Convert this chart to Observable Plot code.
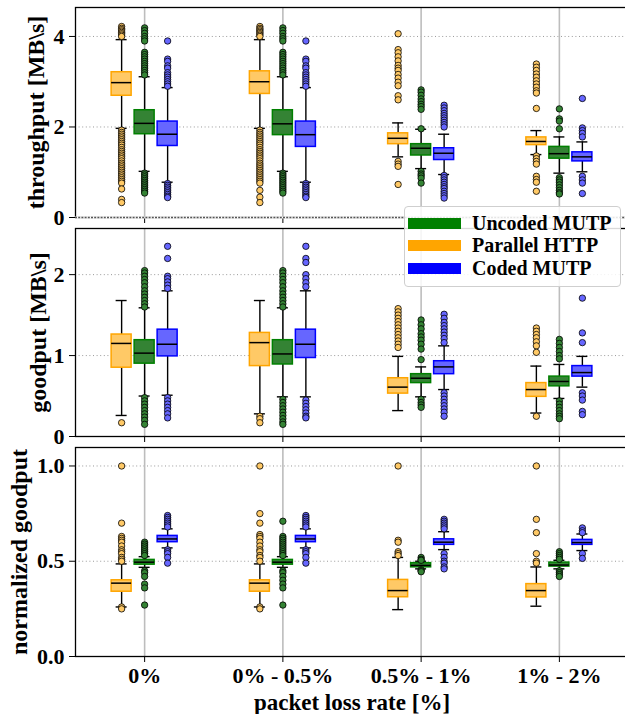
<!DOCTYPE html>
<html>
<head>
<meta charset="utf-8">
<script src="https://cdn.jsdelivr.net/npm/d3@7"></script>
<script src="https://cdn.jsdelivr.net/npm/@observablehq/plot@0.6"></script>
<style>
  html, body { margin: 0; padding: 0; background: #fff; }
  #wrap { position: relative; width: 625px; height: 714px; overflow: hidden; background: #fff; }
  .panel { position: absolute; left: 0; }
  #legend { position: absolute; left: 404px; top: 206px; width: 215px; height: 79px;
    border: 1px solid #cfcfcf; border-radius: 4px; background: rgba(255,255,255,0.85);
    font-family: "Liberation Serif", "Times New Roman", serif; font-weight: bold; font-size: 20px; }
  .lrow { position: absolute; left: 3px; height: 22px; display: flex; align-items: center; }
  .sw { width: 53px; height: 11px; margin-right: 11px; }
</style>
</head>
<body>
<div id="wrap">
  <div id="p1" class="panel" style="top:0px"></div>
  <div id="p2" class="panel" style="top:222px"></div>
  <div id="p3" class="panel" style="top:441px"></div>
  <div id="legend"></div>
</div>
<script>
// ---------------- data ----------------
const categories = ["0%", "0% - 0.5%", "0.5% - 1%", "1% - 2%"];
const seriesNames = ["Parallel HTTP", "Uncoded MUTP", "Coded MUTP"];
const legendOrder = ["Uncoded MUTP", "Parallel HTTP", "Coded MUTP"];
const xTitle = "packet loss rate [%]";
const yTitles = ["throughput [MB\\s]", "goodput [MB\\s]", "normalized goodput"];
const yTicks1 = [0, 2, 4];
const yTicks2 = [0, 1, 2];
const yTicks3 = [0, 0.5, 1.0];

// box stats per category: [whisker low, q1, median, q3, whisker high]
const thrHttpBox = [[1.97, 2.69, 2.98, 3.21, 3.93], [1.97, 2.73, 3.00, 3.23, 3.93], [1.34, 1.62, 1.75, 1.86, 2.09], [1.39, 1.60, 1.68, 1.77, 1.92]];
const thrUncBox  = [[1.02, 1.84, 2.08, 2.37, 3.11], [1.02, 1.82, 2.07, 2.37, 3.11], [1.08, 1.37, 1.53, 1.62, 1.95], [0.98, 1.30, 1.41, 1.56, 1.78]];
const thrCodBox  = [[0.78, 1.58, 1.84, 2.12, 2.87], [0.78, 1.56, 1.83, 2.12, 2.87], [0.95, 1.27, 1.42, 1.53, 1.84], [1.01, 1.24, 1.34, 1.44, 1.67]];

const gpHttpBox = [[0.26, 0.85, 1.15, 1.26, 1.68], [0.28, 0.87, 1.16, 1.28, 1.68], [0.32, 0.53, 0.61, 0.72, 0.99], [0.29, 0.49, 0.58, 0.66, 0.87]];
const gpUncBox  = [[0.50, 0.90, 1.03, 1.19, 1.59], [0.49, 0.89, 1.02, 1.19, 1.59], [0.49, 0.66, 0.72, 0.77, 0.86], [0.47, 0.62, 0.68, 0.74, 0.89]];
const gpCodBox  = [[0.51, 0.99, 1.14, 1.32, 1.80], [0.49, 0.97, 1.14, 1.32, 1.80], [0.58, 0.77, 0.86, 0.93, 1.12], [0.61, 0.74, 0.79, 0.87, 0.99]];

const ngHttpBox = [[0.26, 0.34, 0.385, 0.40, 0.486], [0.26, 0.34, 0.385, 0.40, 0.486], [0.246, 0.311, 0.346, 0.402, 0.52], [0.264, 0.31, 0.346, 0.38, 0.47]];
const ngUncBox  = [[0.468, 0.482, 0.495, 0.507, 0.524], [0.468, 0.482, 0.495, 0.507, 0.524], [0.46, 0.468, 0.478, 0.49, 0.50], [0.46, 0.472, 0.48, 0.493, 0.505]];
const ngCodBox  = [[0.57, 0.60, 0.617, 0.633, 0.67], [0.57, 0.60, 0.617, 0.633, 0.67], [0.561, 0.586, 0.60, 0.615, 0.655], [0.556, 0.586, 0.598, 0.612, 0.643]];

// outliers per category
const thrHttpOut = [
  [4.22, 4.18, 4.15, 4.12, 4.09, 4.06, 4.03, 4.00, 1.93, 1.88, 1.84, 1.80, 1.76, 1.72, 1.68, 1.64, 1.60, 1.55, 1.50, 1.46, 1.42, 1.38, 1.34, 1.30, 1.25, 1.20, 1.16, 1.12, 1.08, 1.04, 1.00, 0.96, 0.92, 0.88, 0.84, 0.80, 0.76, 0.63, 0.40, 0.33],
  [4.22, 4.18, 4.15, 4.12, 4.09, 4.06, 4.03, 4.00, 1.93, 1.88, 1.84, 1.80, 1.76, 1.72, 1.68, 1.64, 1.60, 1.55, 1.50, 1.46, 1.42, 1.38, 1.34, 1.30, 1.25, 1.20, 1.16, 1.12, 1.08, 1.04, 1.00, 0.96, 0.92, 0.88, 0.84, 0.80, 0.76, 0.60, 0.45, 0.33],
  [4.06, 3.71, 3.64, 3.55, 3.46, 3.36, 3.30, 3.25, 3.16, 3.08, 2.99, 2.91, 2.69, 2.60, 1.24, 1.18, 1.13, 0.73],
  [3.39, 3.32, 3.25, 3.17, 3.10, 3.02, 2.95, 2.88, 2.80, 2.75, 2.41, 1.36, 1.30, 1.24, 1.18, 0.91, 0.84, 0.78, 0.58]
];
const thrUncOut = [
  [4.19, 4.13, 4.07, 4.00, 3.95, 3.90, 3.65, 3.60, 3.55, 3.50, 3.45, 3.40, 3.35, 3.30, 3.25, 3.20, 3.15, 0.98, 0.94, 0.90, 0.86, 0.82, 0.78, 0.74, 0.70, 0.66, 0.62, 0.58, 0.54],
  [4.19, 4.13, 4.07, 4.00, 3.95, 3.90, 3.65, 3.60, 3.55, 3.50, 3.45, 3.40, 3.35, 3.30, 3.25, 3.20, 3.15, 0.98, 0.94, 0.90, 0.86, 0.82, 0.78, 0.74, 0.70, 0.66, 0.62, 0.58, 0.54],
  [2.82, 2.77, 2.70, 2.62, 2.56, 2.50, 2.45, 2.39, 1.96, 1.02, 0.96, 0.92, 0.87, 0.76],
  [2.40, 2.18, 2.13, 1.96, 0.88, 0.83, 0.78, 0.72, 0.66, 0.60, 0.55, 0.52]
];
const thrCodOut = [
  [3.90, 3.50, 3.45, 3.35, 3.30, 3.20, 3.15, 3.10, 3.05, 3.00, 2.95, 2.90, 0.75, 0.71, 0.67, 0.63, 0.59, 0.55, 0.51, 0.47, 0.44],
  [3.90, 3.50, 3.45, 3.35, 3.30, 3.20, 3.15, 3.10, 3.05, 3.00, 2.95, 2.90, 0.75, 0.71, 0.67, 0.63, 0.59, 0.55, 0.51, 0.47, 0.44],
  [2.48, 2.42, 2.36, 2.30, 2.25, 2.20, 2.15, 2.10, 2.05, 2.00, 0.93, 0.88, 0.83, 0.78, 0.73, 0.68, 0.64, 0.58, 0.53, 0.48, 0.43],
  [2.63, 1.98, 1.92, 1.86, 1.78, 0.91, 0.83, 0.76, 0.53]
];

const gpHttpOut = [
  [0.17],
  [0.25, 0.22, 0.17],
  [1.58, 1.54, 1.50, 1.46, 1.42, 1.38, 1.34, 1.30, 1.26, 1.22, 1.18, 1.14, 1.10],
  [1.34, 1.30, 1.26, 1.22, 1.17, 1.12, 1.04, 0.25]
];
const gpUncOut = [
  [2.05, 2.02, 1.98, 1.94, 1.90, 1.85, 1.80, 1.76, 1.72, 1.68, 1.64, 1.60, 0.48, 0.44, 0.40, 0.36, 0.32, 0.28, 0.24, 0.20, 0.15],
  [2.05, 2.02, 1.98, 1.94, 1.90, 1.85, 1.80, 1.76, 1.72, 1.68, 1.64, 1.60, 0.46, 0.42, 0.38, 0.34, 0.30, 0.26, 0.22, 0.18, 0.15],
  [1.44, 1.38, 1.33, 1.27, 1.23, 1.19, 1.14, 1.08, 0.95, 0.46, 0.42, 0.39, 0.36],
  [1.20, 1.15, 1.10, 1.05, 1.00, 0.96, 0.44, 0.40, 0.36, 0.32, 0.28, 0.25, 0.22]
];
const gpCodOut = [
  [2.35, 2.20, 1.98, 1.95, 1.91, 1.87, 1.83, 0.48, 0.44, 0.40, 0.36, 0.32, 0.28, 0.23],
  [2.35, 2.20, 2.15, 2.00, 1.95, 1.90, 1.85, 0.45, 0.41, 0.37, 0.33, 0.29, 0.25, 0.23],
  [1.51, 1.46, 1.41, 1.37, 1.33, 1.29, 1.25, 1.21, 1.16, 0.54, 0.50, 0.46, 0.42, 0.38, 0.34, 0.30, 0.25],
  [1.71, 1.28, 1.16, 0.54, 0.50, 0.45, 0.31, 0.27]
];

const ngHttpOut = [
  [1.00, 0.70, 0.63, 0.62, 0.61, 0.60, 0.58, 0.56, 0.55, 0.54, 0.52, 0.51, 0.50, 0.26, 0.25],
  [1.00, 0.75, 0.70, 0.64, 0.63, 0.62, 0.60, 0.58, 0.56, 0.55, 0.53, 0.52, 0.50, 0.26, 0.25],
  [1.00, 0.61, 0.60, 0.55, 0.54, 0.53],
  [1.00, 0.72, 0.65, 0.54, 0.50, 0.49]
];
const ngUncOut = [
  [0.60, 0.59, 0.58, 0.57, 0.56, 0.55, 0.54, 0.53, 0.45, 0.44, 0.42, 0.38, 0.36, 0.27],
  [0.71, 0.63, 0.62, 0.61, 0.60, 0.59, 0.58, 0.57, 0.56, 0.55, 0.54, 0.53, 0.45, 0.44, 0.42, 0.40, 0.38, 0.36, 0.27],
  [0.52, 0.51, 0.505, 0.455, 0.45, 0.445],
  [0.55, 0.54, 0.53, 0.52, 0.51, 0.45, 0.44, 0.43, 0.42]
];
const ngCodOut = [
  [0.74, 0.73, 0.72, 0.71, 0.70, 0.69, 0.68, 0.56, 0.55, 0.54, 0.52, 0.49],
  [0.74, 0.73, 0.72, 0.71, 0.70, 0.69, 0.68, 0.56, 0.55, 0.54, 0.52, 0.49],
  [0.72, 0.71, 0.70, 0.69, 0.68, 0.67, 0.54, 0.52, 0.50, 0.49, 0.47, 0.46],
  [0.675, 0.66, 0.65, 0.54, 0.515]
];

// ---------------- styling ----------------
const faces = {"Parallel HTTP": "#ffc966", "Uncoded MUTP": "#348334", "Coded MUTP": "#6666ff"};
const edges = {"Parallel HTTP": "#ffa500", "Uncoded MUTP": "#008000", "Coded MUTP": "#0000ff"};
const legendColors = {"Parallel HTTP": "#ffa500", "Uncoded MUTP": "#008000", "Coded MUTP": "#0000ff"};
const offsets = {"Parallel HTTP": -23, "Uncoded MUTP": 0, "Coded MUTP": 23};
const FONT = "'Liberation Serif', 'Times New Roman', serif";

const W = 625, ML = 75, MR = -3;
const bandW = (W - ML - MR) / categories.length;
const boxInset = (bandW - 20) / 2;
const capInset = (bandW - 11) / 2;

function boxRows(box) {
  return box.map((b, i) => ({cat: categories[i], lo: b[0], q1: b[1], med: b[2], q3: b[3], hi: b[4]}));
}
function outRows(out) {
  return out.flatMap((vals, i) => vals.map(v => ({cat: categories[i], v})));
}

const panels = [
  {el: "p1", height: 222, mt: 7, mb: 5, domain: [0, 4.64], ticks: yTicks1, fmt: d3.format("d"),
   title: yTitles[0], tdx: -39, boxes: [thrHttpBox, thrUncBox, thrCodBox], outs: [thrHttpOut, thrUncOut, thrCodOut], dashedZero: true, xlabels: false},
  {el: "p2", height: 220, mt: 6, mb: 6, domain: [0, 2.57], ticks: yTicks2, fmt: d3.format("d"),
   title: yTitles[1], tdx: -37, boxes: [gpHttpBox, gpUncBox, gpCodBox], outs: [gpHttpOut, gpUncOut, gpCodOut], dashedZero: false, xlabels: false},
  {el: "p3", height: 273, mt: 6, mb: 58, domain: [0, 1.097], ticks: yTicks3, fmt: d3.format(".1f"),
   title: yTitles[2], tdx: -56, boxes: [ngHttpBox, ngUncBox, ngCodBox], outs: [ngHttpOut, ngUncOut, ngCodOut], dashedZero: false, xlabels: true}
];

for (const p of panels) {
  const marks = [
    Plot.ruleY(p.ticks, {stroke: "#9a9a9a", strokeWidth: 1, strokeDasharray: "1,2.6"}),
    Plot.ruleX(categories, {x: d => d, stroke: "#bdbdbd", strokeWidth: 1.6})
  ];
  seriesNames.forEach((s, k) => {
    const rows = boxRows(p.boxes[k]);
    const dx = offsets[s];
    marks.push(
      Plot.ruleX(rows, {x: "cat", y1: "lo", y2: "q1", dx, stroke: "#000", strokeWidth: 1.4}),
      Plot.ruleX(rows, {x: "cat", y1: "q3", y2: "hi", dx, stroke: "#000", strokeWidth: 1.4}),
      Plot.tickY(rows, {x: "cat", y: "lo", dx, insetLeft: capInset, insetRight: capInset, stroke: "#000", strokeWidth: 1.4}),
      Plot.tickY(rows, {x: "cat", y: "hi", dx, insetLeft: capInset, insetRight: capInset, stroke: "#000", strokeWidth: 1.4}),
      Plot.barY(rows, {x: "cat", y1: "q1", y2: "q3", dx, insetLeft: boxInset, insetRight: boxInset,
        fill: faces[s], stroke: edges[s], strokeWidth: 1.5}),
      Plot.tickY(rows, {x: "cat", y: "med", dx, insetLeft: boxInset, insetRight: boxInset, stroke: "#000", strokeWidth: 1.5}),
      Plot.dot(outRows(p.outs[k]), {x: "cat", y: "v", dx, r: 3.2, fill: faces[s], stroke: "#000", strokeWidth: 0.8})
    );
  });
  marks.push(Plot.frame({stroke: "#000", strokeWidth: 1.3}));
  if (p.dashedZero) {
    marks.push(
      Plot.ruleY([0], {stroke: "#fff", strokeWidth: 2}),
      Plot.ruleY([0], {stroke: "#555", strokeWidth: 1.3, strokeDasharray: "2,1.2"})
    );
  }
  marks.push(Plot.text([p.title], {frameAnchor: "left", dx: p.tdx, rotate: -90, text: d => d,
    fontSize: 24, fontWeight: "bold", fill: "#000", textAnchor: "middle", lineAnchor: "middle"}));
  if (p.xlabels) {
    marks.push(Plot.text([xTitle], {frameAnchor: "bottom", dy: 46, text: d => d,
      fontSize: 23, fontWeight: "bold", fill: "#000", lineAnchor: "middle"}));
  }
  const svg = Plot.plot({
    width: W, height: p.height,
    marginLeft: ML, marginRight: MR, marginTop: p.mt, marginBottom: p.mb,
    style: {fontFamily: FONT, fontSize: "22px", fontWeight: "bold", color: "#000", background: "transparent", overflow: "visible"},
    x: {type: "band", domain: categories, padding: 0, round: false, label: null, tickSize: 6,
        tickPadding: 5, tickFormat: p.xlabels ? (d => d) : (() => "")},
    y: {domain: p.domain, ticks: p.ticks, tickFormat: p.fmt, tickSize: 6, tickPadding: 5, label: null},
    marks
  });
  document.getElementById(p.el).appendChild(svg);
}

// legend
const lg = document.getElementById("legend");
legendOrder.forEach((s, i) => {
  const row = document.createElement("div");
  row.className = "lrow";
  row.style.top = (5 + i * 22.5) + "px";
  const sw = document.createElement("div");
  sw.className = "sw";
  sw.style.background = legendColors[s];
  const t = document.createElement("span");
  t.textContent = s;
  row.appendChild(sw);
  row.appendChild(t);
  lg.appendChild(row);
});
</script>
</body>
</html>
